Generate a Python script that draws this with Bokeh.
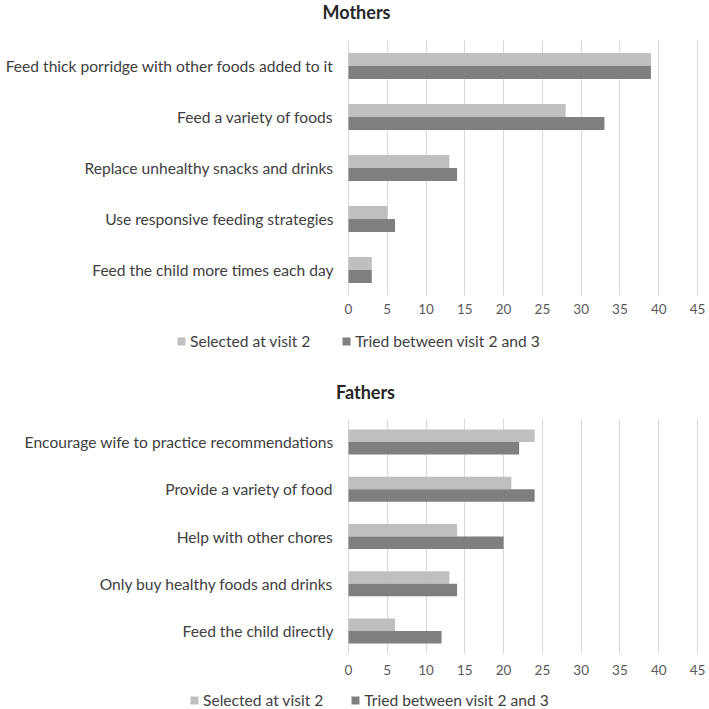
from bokeh.plotting import figure
from bokeh.models import Range1d, FactorRange, Legend, LegendItem, FixedTicker, ColumnDataSource, Label
from bokeh.core.properties import value
from bokeh.transform import dodge
from bokeh.layouts import column
from bokeh.embed import file_html
from bokeh.resources import INLINE

# ---- data ----
mother_actions = [
    "Feed thick porridge with other foods added to it",
    "Feed a variety of foods",
    "Replace unhealthy snacks and drinks",
    "Use responsive feeding strategies",
    "Feed the child more times each day",
]
mother_selected = [39, 28, 13, 5, 3]
mother_tried = [39, 33, 14, 6, 3]

father_actions = [
    "Encourage wife to practice recommendations",
    "Provide a variety of food",
    "Help with other chores",
    "Only buy healthy foods and drinks",
    "Feed the child directly",
]
father_selected = [24, 21, 14, 13, 6]
father_tried = [22, 24, 20, 14, 12]

x_ticks = [0, 5, 10, 15, 20, 25, 30, 35, 40, 45]
x_max = 45
series_names = ["Selected at visit 2", "Tried between visit 2 and 3"]
series_colors = ["#bfbfbf", "#7f7f7f"]

FONT = "Lato"
W = 709
# pixel layout of the bar area inside the full-width frame
AX_LEFT, AX_RIGHT = 348, 697
PX_PER_UNIT = (AX_RIGHT - AX_LEFT) / x_max


def blank(height):
    p = figure(width=W, height=height, output_backend="svg", toolbar_location=None,
               x_axis_type=None, y_axis_type=None, x_range=Range1d(0, 1), y_range=Range1d(0, 1))
    p.min_border_left = p.min_border_right = p.min_border_top = p.min_border_bottom = 0
    p.outline_line_color = None
    p.grid.visible = False
    return p


def title_fig(text, height, cx, cy_from_bottom):
    p = blank(height)
    p.add_layout(Label(x=cx, y=cy_from_bottom, x_units="screen", y_units="screen",
                       text=text, text_align="center", text_baseline="middle",
                       text_font=FONT, text_font_style="bold", text_font_size="18px",
                       text_color="#262626"))
    return p


def legend_fig(height, lx, ly, spacing):
    p = blank(height)
    # zero-width placeholder bars (outside the visible range) that only feed the legend swatches
    src = ColumnDataSource(dict(y=[-1], right=[0]))
    r1 = p.hbar(y="y", right="right", left=0, height=0.5, source=src,
                fill_color=series_colors[0], line_color=None)
    r2 = p.hbar(y="y", right="right", left=0, height=0.5, source=src,
                fill_color=series_colors[1], line_color=None)
    legend = Legend(items=[LegendItem(label=series_names[0], renderers=[r1]),
                           LegendItem(label=series_names[1], renderers=[r2])],
                    orientation="horizontal", location=(lx, ly),
                    glyph_width=10, glyph_height=10, label_standoff=4, spacing=spacing,
                    padding=0, margin=0, border_line_color=None,
                    background_fill_alpha=0, label_text_font=FONT,
                    label_text_font_size="15.6px", label_text_color="#404040")
    p.add_layout(legend, "center")
    return p


def chart_fig(cats, sel, tried, height, b_top, b_bottom, bar_h, x_standoff):
    x0 = -AX_LEFT / PX_PER_UNIT
    x1 = x_max + (W - AX_RIGHT) / PX_PER_UNIT
    p = figure(width=W, height=height, output_backend="svg", toolbar_location=None,
               y_range=FactorRange(*list(reversed(cats))), x_range=Range1d(x0, x1),
               y_axis_location=None)
    p.min_border_left = 0
    p.min_border_right = 0
    p.min_border_top = b_top
    p.min_border_bottom = b_bottom
    p.outline_line_color = None

    src = ColumnDataSource(dict(cat=cats, sel=sel, tried=tried, zero=[0] * len(cats)))
    p.hbar(y=dodge("cat", bar_h / 2, range=p.y_range), left=0, right="sel",
           height=bar_h, source=src, fill_color=series_colors[0], line_color=None)
    p.hbar(y=dodge("cat", -bar_h / 2, range=p.y_range), left=0, right="tried",
           height=bar_h, source=src, fill_color=series_colors[1], line_color=None)
    p.text(x="zero", y="cat", text="cat", source=src, x_offset=-15,
           text_align="right", text_baseline="middle", text_font=value(FONT),
           text_font_size="15.6px", text_color="#404040")

    p.ygrid.grid_line_color = None
    p.xgrid.grid_line_color = "#d9d9d9"
    p.xgrid.grid_line_width = 1
    p.xgrid.ticker = FixedTicker(ticks=x_ticks)
    p.xaxis.ticker = FixedTicker(ticks=x_ticks)
    p.xaxis.axis_line_color = None
    p.xaxis.major_tick_line_color = None
    p.xaxis.minor_tick_line_color = None
    p.xaxis.major_label_standoff = x_standoff
    p.xaxis.major_label_text_font = FONT
    p.xaxis.major_label_text_font_size = "13.5px"
    p.xaxis.major_label_text_color = "#595959"
    return p


t1 = title_fig("Mothers", 26, 356, 15)
c1 = chart_fig(mother_actions, mother_selected, mother_tried,
               height=296, b_top=14, b_bottom=27, bar_h=0.255, x_standoff=2)
l1 = legend_fig(36, 176, 8, 31)
t2 = title_fig("Fathers", 46, 365, 13)
c2 = chart_fig(father_actions, father_selected, father_tried,
               height=276, b_top=14, b_bottom=26, bar_h=0.265, x_standoff=4)
l2 = legend_fig(29, 189, 0, 27)

layout = column(t1, c1, l1, t2, c2, l2, spacing=0)
open("out.html", "w").write(file_html(layout, INLINE))
